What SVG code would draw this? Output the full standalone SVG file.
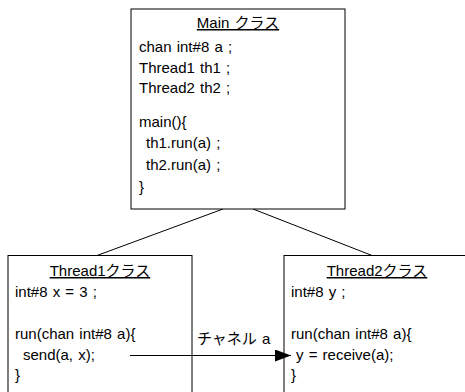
<svg xmlns="http://www.w3.org/2000/svg" width="465" height="392" viewBox="0 0 465 392">
<style>
.box{fill:#fff;stroke:#000;stroke-width:1}
.t{font-family:"Liberation Sans","Noto Sans CJK JP",sans-serif;font-size:15px;fill:#000;word-spacing:1px}
.ttl{text-anchor:middle;text-decoration:underline}
.conn{stroke:#000;stroke-width:1;fill:none}
</style>
<defs>
<marker id="ah" markerWidth="16" markerHeight="12" refX="16" refY="6" orient="auto" markerUnits="userSpaceOnUse">
<path d="M0,0 L16,6 L0,12 Z" fill="#000"/>
</marker>
</defs>
<rect width="465" height="392" fill="#fff"/>
<g id="connectors">
<line class="conn" x1="223" y1="209" x2="97" y2="255.5"/>
<line class="conn" x1="253" y1="209" x2="372" y2="255.5"/>
</g>
<g id="main">
<rect class="box" x="131" y="9" width="214" height="200"/>
<text class="t ttl" x="238" y="28">Main クラス</text>
<text class="t" x="139" y="52">chan int#8 a ;</text>
<text class="t" x="139" y="73">Thread1 th1 ;</text>
<text class="t" x="139" y="93">Thread2 th2 ;</text>
<text class="t" x="139" y="127">main(){</text>
<text class="t" x="146" y="148">th1.run(a) ;</text>
<text class="t" x="146" y="170">th2.run(a) ;</text>
<text class="t" x="139" y="192">}</text>
</g>
<g id="thread1">
<rect class="box" x="8" y="255.5" width="184" height="150"/>
<text class="t ttl" x="100" y="276">Thread1クラス</text>
<text class="t" x="15" y="297">int#8 x = 3 ;</text>
<text class="t" x="15" y="339">run(chan int#8 a){</text>
<text class="t" x="23" y="360">send(a, x);</text>
<text class="t" x="15" y="380">}</text>
</g>
<g id="thread2">
<rect class="box" x="284" y="255.5" width="190" height="150"/>
<text class="t ttl" x="377" y="276">Thread2クラス</text>
<text class="t" x="291" y="297">int#8 y ;</text>
<text class="t" x="291" y="339">run(chan int#8 a){</text>
<text class="t" x="296" y="360">y = receive(a);</text>
<text class="t" x="291" y="380">}</text>
</g>
<g id="channel">
<line class="conn" x1="130" y1="355.5" x2="291" y2="355.5" marker-end="url(#ah)"/>
<text class="t" x="197" y="344">チャネル a</text>
</g>
</svg>
